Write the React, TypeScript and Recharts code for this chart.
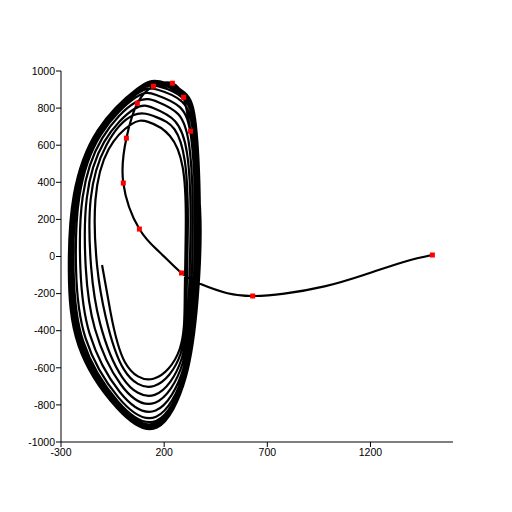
import { ComposedChart, Line, Scatter, XAxis, YAxis } from 'recharts';

// run-in from the right
const approach: number[][] = [
  [1500, 8], [1365, -28], [1171, -98], [977, -161], [782, -200], [629, -213],
  [507, -198], [380, -150], [284, -89], [182, 19], [80, 148], [2, 396],
  [17, 638], [70, 826], [148, 918], [240, 934], [294, 858], [328, 675],
];

// loops, outermost first, each from top going clockwise
const loop1: number[][] = [
  [374, 260], [362, -230], [305, -650], [165, -922], [-30, -815], [-215, -480],
  [-262, -75], [-238, 330], [-122, 680], [70, 905],
];
const loop2: number[][] = [
  [179, 944], [299, 883], [354, 705], [373, 259], [361, -229], [304, -647], [165, -917],
  [-29, -810], [-212, -476], [-259, -74], [-236, 329], [-121, 678], [69, 901],
];
const loop3: number[][] = [
  [178, 937], [297, 876], [352, 698], [371, 257], [359, -228], [304, -642], [164, -909],
  [-28, -803], [-207, -471], [-254, -74], [-232, 328], [-119, 674], [69, 894],
];
const loop4: number[][] = [
  [176, 928], [294, 867], [349, 689], [368, 255], [356, -227], [302, -636], [163, -898],
  [-26, -793], [-201, -464], [-248, -72], [-227, 327], [-116, 669], [67, 886],
];
const loop5: number[][] = [
  [173, 917], [290, 855], [346, 678], [364, 252], [353, -226], [301, -629], [163, -885],
  [-24, -781], [-193, -455], [-239, -71], [-221, 326], [-113, 663], [66, 875],
];
const loop6: number[][] = [
  [169, 899], [285, 836], [341, 659], [359, 247], [348, -223], [298, -617], [161, -864],
  [-21, -761], [-181, -440], [-227, -69], [-211, 323], [-108, 654], [63, 858],
];
const loop7: number[][] = [
  [163, 870], [276, 805], [332, 630], [350, 239], [340, -220], [295, -598], [159, -830],
  [-16, -729], [-161, -417], [-206, -65], [-195, 320], [-100, 638], [60, 830],
];
const loop8: number[][] = [
  [172, 832], [270, 765], [322, 593], [339, 229], [330, -215], [290, -574], [156, -788],
  [-10, -690], [-136, -388], [-180, -60], [-175, 315], [-90, 619], [55, 795],
];
const loop9: number[][] = [
  [150, 799], [253, 729], [311, 556], [328, 220], [320, -210], [285, -550], [154, -746],
  [-3, -651], [-111, -359], [-154, -56], [-156, 310], [-80, 600], [50, 761],
];
const loop10: number[][] = [
  [165, 750], [250, 686], [300, 515], [315, 209], [309, -204], [280, -523], [151, -698],
  [4, -607], [-83, -327], [-125, -50], [-133, 305], [-69, 578], [40, 712],
];
const loop11: number[][] = [
  [122, 726], [228, 650], [290, 480], [305, 200], [300, -200], [275, -500], [148, -659],
  [10, -570], [-60, -300], [-101, -46],
];

const redDots: number[][] = [
  [1500, 8], [629, -213], [284, -89], [80, 148], [2, 396], [17, 638],
  [70, 826], [148, 918], [240, 934], [294, 858], [328, 675],
];

const xTicks = [-300, 200, 700, 1200];
const yTicks = [-1000, -800, -600, -400, -200, 0, 200, 400, 600, 800, 1000];

const toPts = (arr: number[][]) => arr.map(([x, y]) => ({ x, y }));

const trajectory = toPts([
  ...approach, ...loop1, ...loop2, ...loop3, ...loop4, ...loop5, ...loop6,
  ...loop7, ...loop8, ...loop9, ...loop10, ...loop11,
]);
const markers = toPts(redDots);

const tickStyle = { fontSize: 10.5, fill: '#000', fontFamily: '"Liberation Sans", Arial, sans-serif' };

const RedSquare = (props: any) => (
  <rect x={props.cx - 2.5} y={props.cy - 2.5} width={5} height={5} fill="#ff0000" />
);

export default function App() {
  return (
    <div style={{ position: 'absolute', left: 0, top: 0, width: 512, height: 512, background: '#fff' }}>
      <ComposedChart width={512} height={512} margin={{ top: 71, right: 59, bottom: 40, left: 0 }}>
        <XAxis
          type="number"
          dataKey="x"
          domain={[-300, 1600]}
          ticks={xTicks}
          allowDataOverflow
          height={30}
          tick={tickStyle}
          tickSize={5}
          tickMargin={2}
          axisLine={{ stroke: '#000' }}
          tickLine={{ stroke: '#000' }}
        />
        <YAxis
          type="number"
          dataKey="y"
          domain={[-1000, 1000]}
          ticks={yTicks}
          allowDataOverflow
          width={61}
          tick={tickStyle}
          tickSize={5}
          tickMargin={1}
          axisLine={{ stroke: '#000' }}
          tickLine={{ stroke: '#000' }}
        />
        <Line
          data={trajectory}
          dataKey="y"
          type="natural"
          stroke="#000"
          strokeWidth={2.2}
          dot={false}
          activeDot={false}
          isAnimationActive={false}
        />
        <Scatter data={markers} dataKey="y" shape={RedSquare} isAnimationActive={false} />
      </ComposedChart>
    </div>
  );
}
